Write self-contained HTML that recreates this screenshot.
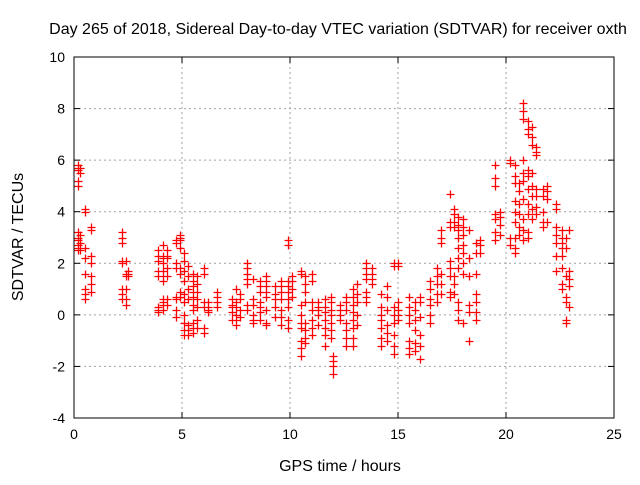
<!DOCTYPE html>
<html><head><meta charset="utf-8"><style>
body{margin:0;background:#fff;}
svg text{font-family:"Liberation Sans",sans-serif;}
</style></head><body>
<svg id="chart" width="640" height="480" xmlns="http://www.w3.org/2000/svg">
<rect width="640" height="480" fill="#fff"/>
<text x="338" y="34" font-size="16" text-anchor="middle">Day 265 of 2018, Sidereal Day-to-day VTEC variation (SDTVAR) for receiver oxth</text>
<text x="340" y="471" font-size="16" text-anchor="middle">GPS time / hours</text>
<text x="0" y="0" font-size="16" text-anchor="middle" transform="translate(23,237) rotate(-90)">SDTVAR / TECUs</text>
<g id="grid"></g>
<g id="ticks"></g>
<g id="points"></g>
<rect x="74" y="57" width="540" height="361" fill="none" stroke="#000" stroke-width="1"/>
</svg>
<script>
const xTicks=[0,5,10,15,20,25];
const yTicks=[-4,-2,0,2,4,6,8,10];
const stripX=[0.2,0.3,0.5,0.8,2.2,2.4,2.5,3.9,4.1,4.3,4.7,4.9,5.1,5.3,5.5,5.7,6.0,6.2,6.6,7.3,7.5,7.7,8.0,8.3,8.6,8.9,9.3,9.6,9.9,10.1,10.5,10.7,11.0,11.3,11.6,11.9,12.0,12.3,12.6,12.9,13.1,13.5,13.8,14.2,14.5,14.8,15.0,15.5,15.8,16.0,16.5,16.8,17.0,17.4,17.6,17.8,18.0,18.3,18.6,18.8,19.5,19.7,20.2,20.4,20.6,20.8,21.0,21.2,21.4,21.7,21.9,22.3,22.6,22.8,22.9];
const stripY=[
[5.8,5.7,5.6,5.2,5.0,3.2,3.0,2.9,2.7,2.6,2.5],
[5.7,5.5,3.1,2.8,2.6,2.5],
[4.1,4.0,2.6,2.2,1.6,1.0,0.8,0.6],
[3.4,3.3,2.3,2.0,1.5,1.2,0.9],
[3.2,3.0,2.8,2.1,2.0,1.0,0.8,0.6],
[2.1,1.6,1.5,1.0,0.6,0.4],
[1.7,1.6,1.5],
[2.5,2.3,2.1,1.7,1.5,0.3,0.2,0.1],
[2.7,2.3,2.2,2.0,1.7,1.5,1.3,0.6,0.5,0.4,0.2],
[2.5,2.3,2.2,1.8,1.5,0.6,0.4],
[2.9,2.8,2.0,1.8,0.7,0.6,0.2,-0.1],
[3.1,3.0,2.9,2.6,1.8,1.6,0.9,0.7],
[2.4,2.1,1.7,1.3,0.8,0.5,0.0,-0.3,-0.6,-0.8],
[1.9,1.5,1.0,0.6,-0.4,-0.6,-0.8],
[1.6,1.3,1.1,0.9,0.7,0.4,0.2,-0.3,-0.5,-0.7],
[1.5,1.2,0.9,0.6,0.3,-0.2,-0.5],
[1.8,1.6,0.5,0.3,-0.5,-0.7],
[0.5,0.3,0.2,0.1],
[0.9,0.7,0.5,0.3],
[0.6,0.4,0.3,0.1,-0.2],
[1.0,0.5,0.3,0.0,-0.2,-0.4],
[0.8,0.6,0.2,-0.1],
[2.0,1.8,1.6,1.4,1.2,0.4,0.2],
[1.4,0.6,0.4,0.0,-0.2,-0.3],
[1.3,1.1,0.9,0.5,0.3,0.1,-0.2],
[1.5,1.3,1.1,0.9,0.7,0.2,-0.3,-0.4],
[1.1,0.8,0.6,0.3,-0.1],
[1.3,1.1,0.9,0.6,0.2,-0.1,-0.4],
[2.9,2.7,1.3,1.1,0.9,0.6,0.3,-0.2,-0.5],
[1.5,1.3,1.0,0.7],
[1.7,1.6,0.4,0.0,-0.3,-0.5,-1.0,-1.3,-1.6],
[1.5,1.2,0.9,0.5,-0.3,-0.6,-0.9,-1.1],
[1.6,1.3,0.5,0.2,-0.2,-0.5,-0.8],
[0.5,0.3,0.2,0.0,-0.4],
[0.6,0.3,0.1,-0.2,-0.5,-0.8,-1.2],
[0.7,0.5,0.2,0.0,-0.3,-0.6,-0.9],
[-1.6,-1.8,-2.0,-2.3],
[0.4,0.2,0.0,-0.2],
[0.7,0.5,0.2,-0.3,-0.6,-0.9,-1.2],
[1.0,0.7,0.4,0.1,-0.2,-0.5,-0.9,-1.2],
[1.2,0.8,0.5,0.0,-0.4],
[2.0,1.8,1.6,1.4,0.9,0.7,0.5],
[1.8,1.6,1.4,1.2],
[0.8,0.3,0.0,-0.2,-0.5,-0.9,-1.2],
[1.1,0.7,0.2,-0.4,-0.7,-1.0],
[2.0,1.9,0.3,0.0,-0.3,-0.8,-1.2,-1.5],
[2.0,1.9,0.5,0.2,0.0,-0.2],
[0.7,0.3,0.0,-0.3,-1.0,-1.3,-1.5],
[0.5,0.2,-0.2,-0.6,-1.1,-1.4],
[0.7,0.5,-0.1,-0.8,-1.2,-1.7],
[1.3,1.0,0.6,0.4,0.0,-0.3],
[1.8,1.5,1.2,0.8,0.5],
[3.3,3.0,2.8,1.6,1.2,0.8],
[4.7,3.6,3.4,2.1,1.8,1.5,0.9,0.7],
[4.1,3.9,3.6,3.4,1.5,1.2,0.8],
[3.8,3.5,3.3,3.0,2.6,2.2,1.8,0.5,0.2,-0.2],
[3.7,3.4,3.1,2.7,2.4,2.0,1.6,-0.3],
[3.3,2.2,1.5,0.4,0.1,-1.0],
[2.8,2.4,1.6,0.8,0.5,0.1,-0.2],
[2.9,2.7,2.4],
[5.8,5.3,5.0,3.9,3.7,3.2,2.9],
[4.0,3.8,3.5,3.1],
[6.0,5.9,3.0,2.7],
[5.8,5.4,5.1,4.4,4.0,3.6,3.0,2.6,2.4],
[5.1,4.8,4.3,3.9,3.4,3.1],
[8.2,7.9,7.6,6.0,5.5,5.2,4.5,3.7,3.3,2.9],
[7.5,7.2,7.0,5.6,5.4,4.9,4.3,3.9,3.2,3.0],
[7.3,6.9,6.6,5.5,5.0,4.6,4.1,3.7],
[6.5,6.3,6.2,4.9,4.6,4.2,3.9],
[4.9,4.6,4.0,3.6,3.4],
[5.0,4.8,4.5,3.6],
[4.3,4.1,3.4,3.1,2.8,2.3,1.7],
[3.3,3.0,2.8,2.6,2.3,1.8,1.2,1.0],
[3.0,2.6,1.5,0.7,0.5,-0.2,-0.3],
[3.3,1.7,1.4,1.1,0.3]
];
const L=74,R=614,T=57,B=418;
const xS=v=>L+(v-0)/(25-0)*(R-L);
const yS=v=>B-(v+4)/(14)*(B-T);
const NS="http://www.w3.org/2000/svg";
function mk(tag,attrs,parent){const e=document.createElementNS(NS,tag);for(const k in attrs)e.setAttribute(k,attrs[k]);parent.appendChild(e);return e;}
const grid=document.getElementById('grid'),ticks=document.getElementById('ticks'),pts=document.getElementById('points');
xTicks.forEach(t=>{const x=xS(t);
 if(t>0&&t<25){const g=mk('line',{x1:x,x2:x,y1:T,y2:B,stroke:'#a0a0a0','stroke-dasharray':'2,3'},grid);
 
 }
 mk('line',{x1:x,x2:x,y1:B,y2:B-6,stroke:'#000'},ticks);
 mk('line',{x1:x,x2:x,y1:T,y2:T+6,stroke:'#000'},ticks);
 const tx=mk('text',{x:x,y:B+21,'font-size':14,'text-anchor':'middle'},ticks);tx.textContent=t;
 
 
});
yTicks.forEach(t=>{const y=yS(t);
 if(t>-4&&t<10){const g=mk('line',{x1:L,x2:R,y1:y,y2:y,stroke:'#a0a0a0','stroke-dasharray':'2,3'},grid);
 
 }
 mk('line',{x1:L,x2:L+6,y1:y,y2:y,stroke:'#000'},ticks);
 mk('line',{x1:R,x2:R-6,y1:y,y2:y,stroke:'#000'},ticks);
 const tx=mk('text',{x:L-9,y:y+5,'font-size':14,'text-anchor':'end'},ticks);tx.textContent=t;
 
 
});
let d='';
stripX.forEach((xv,i)=>{stripY[i].forEach(yv=>{const x=Math.round(xS(xv))+0.5,y=Math.round(yS(yv))+0.5;
 d+=`M${x-4} ${y}h8M${x} ${y-4}v8`;});});
const p=mk('path',{d:d,stroke:'#ff0000','stroke-width':1.3,fill:'none'},pts);


</script>
</body></html>
